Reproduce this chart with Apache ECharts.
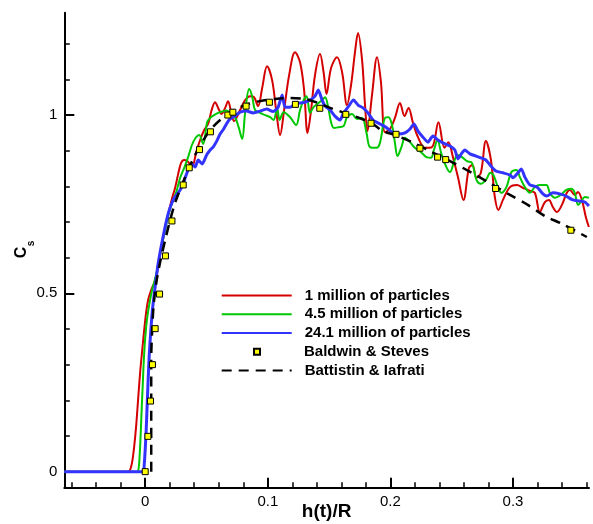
<!DOCTYPE html>
<html>
<head>
<meta charset="utf-8">
<script src="https://cdn.jsdelivr.net/npm/echarts@6/dist/echarts.min.js"></script>
<style>
html,body{margin:0;padding:0;background:#fff;}
#chart{width:593px;height:524px;}
</style>
</head>
<body>
<div id="chart"></div>
<script>
// ---- data ----
const xMajorTicks = [0, 0.1, 0.2, 0.3];
const xMinorTicks = [-0.06, -0.04, -0.02, 0.02, 0.04, 0.06, 0.08, 0.12, 0.14, 0.16, 0.18, 0.22, 0.24, 0.26, 0.28, 0.32, 0.34, 0.36];
const yMajorTicks = [0, 0.5, 1];
const yMinorTicks = [0.1, 0.2, 0.3, 0.4, 0.6, 0.7, 0.8, 0.9, 1.1, 1.2];

const seriesNames = ['1 million of particles', '4.5 million of particles', '24.1 million of particles', 'Baldwin & Steves', 'Battistin & Iafrati'];

const red1M = [[-0.066,0],[-0.0139,0],[-0.0122,0.006],[-0.0106,0.028],[-0.0090,0.070],[-0.0073,0.132],[-0.0057,0.207],[-0.0041,0.280],[-0.0024,0.342],[-0.0008,0.398],[0.0008,0.448],[0.0024,0.482],[0.0049,0.510],[0.0073,0.529],[0.0098,0.560],[0.0122,0.608],[0.0147,0.655],[0.0171,0.700],[0.0196,0.734],[0.0220,0.768],[0.0244,0.796],[0.0269,0.835],[0.0293,0.866],[0.0318,0.874],[0.0342,0.871],[0.0383,0.857],[0.0416,0.896],[0.0448,0.930],[0.0481,0.958],[0.0513,0.975],[0.0542,1.014],[0.0570,1.036],[0.0595,1.020],[0.0623,1.003],[0.0652,1.020],[0.0676,1.039],[0.0701,1.008],[0.0725,0.983],[0.0774,1.014],[0.0815,1.042],[0.0856,1.053],[0.0888,1.050],[0.0921,1.025],[0.0954,1.076],[0.0994,1.137],[0.1035,1.098],[0.1068,1.014],[0.1100,0.944],[0.1133,1.014],[0.1174,1.112],[0.1222,1.176],[0.1263,1.148],[0.1296,1.070],[0.1324,0.950],[0.1353,1.014],[0.1385,1.112],[0.1426,1.171],[0.1455,1.120],[0.1479,1.059],[0.1516,1.132],[0.1565,1.162],[0.1606,1.120],[0.1646,1.028],[0.1679,1.084],[0.1711,1.176],[0.1736,1.230],[0.1769,1.154],[0.1793,1.028],[0.1813,0.955],[0.1850,1.056],[0.1891,1.162],[0.1923,1.092],[0.1956,0.952],[0.1997,0.961],[0.2037,0.992],[0.2078,1.034],[0.2115,0.997],[0.2148,1.020],[0.2184,0.978],[0.2225,0.938],[0.2282,0.908],[0.2339,0.910],[0.2392,0.980],[0.2441,0.908],[0.2473,0.924],[0.2510,0.882],[0.2551,0.826],[0.2596,0.762],[0.2641,0.852],[0.2669,0.860],[0.2702,0.824],[0.2738,0.838],[0.2779,0.927],[0.2820,0.874],[0.2852,0.770],[0.2881,0.734],[0.2918,0.762],[0.2975,0.798],[0.3032,0.804],[0.3081,0.796],[0.3138,0.787],[0.3178,0.782],[0.3219,0.728],[0.3260,0.756],[0.3293,0.762],[0.3325,0.742],[0.3358,0.728],[0.3399,0.748],[0.3439,0.782],[0.3464,0.790],[0.3504,0.776],[0.3529,0.784],[0.3562,0.762],[0.3594,0.714],[0.3619,0.686]];

const green45M = [[-0.066,0],[-0.0065,0],[-0.0053,0.011],[-0.0045,0.048],[-0.0037,0.104],[-0.0029,0.174],[-0.0020,0.244],[-0.0012,0.308],[0,0.375],[0.0016,0.431],[0.0037,0.476],[0.0057,0.510],[0.0081,0.541],[0.0106,0.580],[0.0130,0.627],[0.0163,0.678],[0.0187,0.717],[0.0220,0.754],[0.0253,0.784],[0.0285,0.824],[0.0318,0.852],[0.0350,0.882],[0.0391,0.924],[0.0440,0.944],[0.0473,0.919],[0.0505,0.980],[0.0530,0.992],[0.0562,1.000],[0.0595,1.006],[0.0628,1.010],[0.0664,1.013],[0.0693,1.006],[0.0733,0.994],[0.0762,0.966],[0.0791,0.933],[0.0815,1.006],[0.0848,1.073],[0.0872,1.053],[0.0896,1.014],[0.0937,1.006],[0.0978,1.000],[0.1019,0.994],[0.1047,0.986],[0.1076,1.020],[0.1096,0.986],[0.1129,1.008],[0.1182,0.994],[0.1231,0.972],[0.1263,1.014],[0.1292,1.042],[0.1316,1.053],[0.1345,1.006],[0.1373,1.022],[0.1414,1.034],[0.1443,1.042],[0.1467,1.050],[0.1491,1.025],[0.1516,0.980],[0.1540,0.964],[0.1577,0.966],[0.1618,0.969],[0.1646,0.994],[0.1687,1.003],[0.1728,0.989],[0.1769,0.992],[0.1805,0.950],[0.1834,0.910],[0.1887,0.908],[0.1915,0.922],[0.1956,0.992],[0.1985,0.994],[0.2013,0.972],[0.2037,0.922],[0.2058,0.885],[0.2090,0.910],[0.2119,0.936],[0.2160,0.924],[0.2200,0.908],[0.2249,0.896],[0.2294,0.882],[0.2331,0.880],[0.2355,0.902],[0.2384,0.930],[0.2416,0.891],[0.2457,0.854],[0.2486,0.840],[0.2518,0.868],[0.2547,0.888],[0.2584,0.882],[0.2624,0.871],[0.2665,0.866],[0.2702,0.818],[0.2738,0.807],[0.2779,0.818],[0.2816,0.838],[0.2840,0.832],[0.2877,0.798],[0.2905,0.782],[0.2946,0.798],[0.2987,0.840],[0.3028,0.846],[0.3056,0.826],[0.3097,0.798],[0.3138,0.782],[0.3178,0.798],[0.3219,0.804],[0.3272,0.804],[0.3301,0.782],[0.3341,0.768],[0.3390,0.776],[0.3435,0.790],[0.3476,0.793],[0.3504,0.782],[0.3531,0.748],[0.3559,0.759],[0.3586,0.770],[0.3619,0.768]];

const blue241M = [[-0.066,0],[-0.0016,0],[-0.0008,0.020],[0,0.062],[0.0008,0.118],[0.0016,0.188],[0.0024,0.258],[0.0033,0.328],[0.0045,0.392],[0.0059,0.454],[0.0081,0.518],[0.0106,0.585],[0.0147,0.661],[0.0187,0.723],[0.0228,0.762],[0.0269,0.782],[0.0302,0.801],[0.0326,0.824],[0.0350,0.846],[0.0379,0.863],[0.0407,0.854],[0.0432,0.874],[0.0465,0.863],[0.0501,0.888],[0.0530,0.902],[0.0554,0.910],[0.0583,0.927],[0.0611,0.947],[0.0640,0.961],[0.0668,0.978],[0.0693,0.989],[0.0733,0.997],[0.0774,1.008],[0.0827,1.011],[0.0880,1.006],[0.0937,1.011],[0.0990,1.017],[0.1043,1.010],[0.1084,1.022],[0.1117,1.056],[0.1141,1.022],[0.1182,1.022],[0.1222,1.031],[0.1263,1.034],[0.1304,1.036],[0.1345,1.042],[0.1385,1.053],[0.1412,1.070],[0.1443,1.042],[0.1467,1.025],[0.1508,1.014],[0.1548,0.997],[0.1589,0.986],[0.1618,1.006],[0.1654,1.022],[0.1699,1.042],[0.1736,1.028],[0.1777,1.020],[0.1817,1.006],[0.1858,0.986],[0.1915,0.975],[0.1964,0.966],[0.2013,0.952],[0.2062,0.947],[0.2119,0.950],[0.2160,0.961],[0.2192,0.975],[0.2225,0.955],[0.2266,0.938],[0.2306,0.924],[0.2347,0.941],[0.2388,0.930],[0.2429,0.922],[0.2486,0.913],[0.2526,0.902],[0.2551,0.877],[0.2584,0.894],[0.2608,0.902],[0.2649,0.891],[0.2698,0.885],[0.2738,0.880],[0.2779,0.874],[0.2820,0.857],[0.2861,0.843],[0.2918,0.838],[0.2975,0.832],[0.2999,0.824],[0.3040,0.838],[0.3068,0.849],[0.3097,0.826],[0.3138,0.804],[0.3195,0.798],[0.3244,0.779],[0.3276,0.773],[0.3325,0.782],[0.3382,0.779],[0.3431,0.773],[0.3488,0.762],[0.3545,0.759],[0.3586,0.756],[0.3619,0.745]];

const baldwinSteves = [[0,0],[0.0022,0.099],[0.0043,0.198],[0.0059,0.300],[0.0081,0.401],[0.0117,0.498],[0.0165,0.605],[0.0218,0.703],[0.0310,0.804],[0.0359,0.852],[0.0443,0.903],[0.0532,0.953],[0.0674,1.000],[0.0715,1.008],[0.0823,1.025],[0.1013,1.036],[0.1225,1.030],[0.1424,1.019],[0.1636,1.002],[0.1842,0.977],[0.2046,0.946],[0.2241,0.907],[0.2385,0.882],[0.2451,0.875],[0.2858,0.794],[0.3472,0.677]];

const battistinIafrati = [[0.0049,0],[0.0049,0.314],[0.0057,0.398],[0.0069,0.468],[0.0090,0.529],[0.0122,0.588],[0.0163,0.650],[0.0204,0.706],[0.0244,0.754],[0.0293,0.798],[0.0350,0.846],[0.0407,0.888],[0.0465,0.924],[0.0530,0.958],[0.0611,0.986],[0.0709,1.011],[0.0815,1.028],[0.0937,1.039],[0.1059,1.045],[0.1182,1.048],[0.1304,1.045],[0.1410,1.034],[0.1532,1.017],[0.1630,1.006],[0.1728,0.994],[0.1834,0.980],[0.1940,0.955],[0.2037,0.944],[0.2176,0.924],[0.2339,0.896],[0.2502,0.868],[0.2665,0.838],[0.2795,0.812],[0.2975,0.776],[0.3121,0.748],[0.3260,0.717],[0.3399,0.695],[0.3602,0.658]];

// ---- chart ----
const FONT = '"Liberation Sans", Arial, Helvetica, sans-serif';
const chart = echarts.init(document.getElementById('chart'), null, {renderer: 'canvas'});

const X_MIN = -0.066, X_MAX = 0.362, Y_MIN = -0.045, Y_MAX = 1.287;

const option = {
  animation: false,
  backgroundColor: '#fff',
  grid: {left: 64.3, right: 4, top: 12.7, bottom: 36.3, containLabel: false, outerBoundsMode: 'none'},
  xAxis: [
    {
      type: 'value', min: X_MIN, max: X_MAX,
      name: 'h(t)/R', nameLocation: 'middle', nameGap: 15, nameMoveOverlap: false,
      nameTextStyle: {fontFamily: FONT, fontWeight: 'bold', fontSize: 19, color: '#000'},
      axisLine: {show: true, onZero: false, lineStyle: {color: '#000', width: 2}},
      axisTick: {show: true, inside: true, length: 10, customValues: xMajorTicks, lineStyle: {color: '#000', width: 2}},
      axisLabel: {show: true, customValues: xMajorTicks, margin: 7, fontFamily: FONT, fontSize: 15, color: '#000'},
      splitLine: {show: false}
    },
    {
      type: 'value', min: X_MIN, max: X_MAX, position: 'bottom',
      axisLine: {show: false, onZero: false},
      axisTick: {show: true, inside: true, length: 5.5, customValues: xMinorTicks, lineStyle: {color: '#000', width: 1.5}},
      axisLabel: {show: false},
      splitLine: {show: false}
    }
  ],
  yAxis: [
    {
      type: 'value', min: Y_MIN, max: Y_MAX,
      axisLine: {show: true, onZero: false, lineStyle: {color: '#000', width: 2}},
      axisTick: {show: true, inside: true, length: 10, customValues: yMajorTicks, lineStyle: {color: '#000', width: 2}},
      axisLabel: {show: true, customValues: yMajorTicks, margin: 7, padding: [4, 0, 0, 0], fontFamily: FONT, fontSize: 15, color: '#000'},
      splitLine: {show: false}
    },
    {
      type: 'value', min: Y_MIN, max: Y_MAX, position: 'left',
      axisLine: {show: false, onZero: false},
      axisTick: {show: true, inside: true, length: 5.5, customValues: yMinorTicks, lineStyle: {color: '#000', width: 1.5}},
      axisLabel: {show: false},
      splitLine: {show: false}
    }
  ],
  legend: [
    {
      data: seriesNames.slice(0, 3), orient: 'vertical', left: 220.7, top: 288,
      itemWidth: 70, itemHeight: 14, itemGap: 3.8, padding: 0, selectedMode: false,
      itemStyle: {opacity: 0},
      textStyle: {fontFamily: FONT, fontWeight: 'bold', fontSize: 15, color: '#000', padding: [0, 0, 0, 8]}
    },
    {
      data: [seriesNames[3]], orient: 'vertical', left: 253, top: 344.2,
      itemWidth: 6, itemHeight: 6, padding: 0, selectedMode: false,
      textStyle: {fontFamily: FONT, fontWeight: 'bold', fontSize: 15, color: '#000', padding: [0, 0, 0, 39]}
    },
    {
      data: [seriesNames[4]], orient: 'vertical', left: 220.7, top: 363,
      itemWidth: 70, itemHeight: 14, padding: 0, selectedMode: false,
      itemStyle: {opacity: 0},
      textStyle: {fontFamily: FONT, fontWeight: 'bold', fontSize: 15, color: '#000', padding: [0, 0, 0, 8]}
    }
  ],
  graphic: [
    {type: 'text', x: 21.3, y: 252.5, rotation: Math.PI / 2, silent: true,
     style: {text: 'C', font: 'bold 16px ' + FONT, fill: '#000', align: 'center', verticalAlign: 'middle'}},
    {type: 'text', x: 31, y: 243.4, rotation: Math.PI / 2, silent: true,
     style: {text: 's', font: 'bold 10px ' + FONT, fill: '#000', align: 'center', verticalAlign: 'middle'}}
  ],
  series: [
    {name: seriesNames[0], type: 'line', data: red1M, symbol: 'none', smooth: 0.35, z: 2,
     lineStyle: {color: '#d40000', width: 2}, itemStyle: {color: '#d40000'}},
    {name: seriesNames[1], type: 'line', data: green45M, symbol: 'none', smooth: 0.35, z: 3,
     lineStyle: {color: '#00c800', width: 2}, itemStyle: {color: '#00c800'}},
    {name: seriesNames[2], type: 'line', data: blue241M, symbol: 'none', smooth: 0.2, z: 4,
     lineStyle: {color: '#3333ff', width: 3}, itemStyle: {color: '#3333ff'}},
    {name: seriesNames[4], type: 'line', data: battistinIafrati, symbol: 'none', smooth: 0.3, z: 5,
     lineStyle: {color: '#000', width: 2.5, type: [10, 7]}, itemStyle: {color: '#000'}},
    {name: seriesNames[3], type: 'scatter', data: baldwinSteves, symbol: 'rect', symbolSize: 6, z: 6,
     itemStyle: {color: '#ffff00', borderColor: '#000', borderWidth: 1, opacity: 1}}
  ]
};
chart.setOption(option);
</script>
</body>
</html>
